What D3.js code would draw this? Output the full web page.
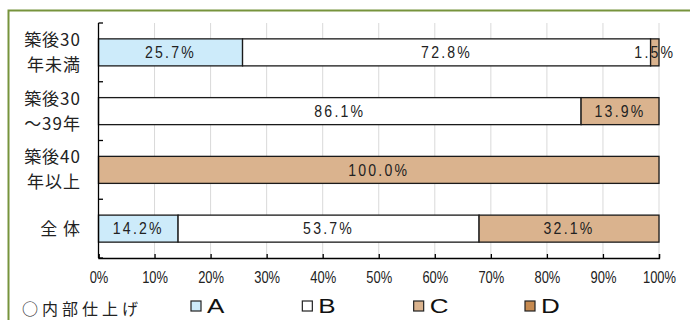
<!DOCTYPE html>
<html>
<head>
<meta charset="utf-8">
<script src="https://cdn.jsdelivr.net/npm/d3@7"></script>
<style>
  html, body { margin: 0; padding: 0; background: #fff; }
  svg { display: block; }
  .num { font-family: "Liberation Sans Narrow", "Liberation Sans", sans-serif; }
  .jp { font-family: "Noto Sans CJK JP", sans-serif; }
</style>
</head>
<body>
<svg id="chart" width="690" height="320"></svg>
<script>
// Age groups (two-line labels) and the shares of each rating
const categories = ["築後30年未満", "築後30～39年", "築後40年以上", "全体"];
const categoryLines = [["築後30", "年未満"], ["築後30", "～39年"], ["築後40", "年以上"], ["全 体"]];
const seriesNames = ["A", "B", "C", "D"];
const valuesA = [25.7, 0, 0, 14.2];
const valuesB = [72.8, 86.1, 0, 53.7];
const valuesC = [1.5, 13.9, 100.0, 32.1];
const valuesD = [0, 0, 0, 0];
const xTicks = [0, 10, 20, 30, 40, 50, 60, 70, 80, 90, 100];
const legendTitle = "○内部仕上げ";

const colors = { A: "#cdebfa", B: "#ffffff", C: "#dab38e", D: "#c68a50" };

const svg = d3.select("#chart");

// narrow the digits horizontally, keeping their height
function condense(sel, factor) {
  sel.each(function () {
    const w = this.getComputedTextLength();
    d3.select(this).attr("textLength", w * factor).attr("lengthAdjust", "spacingAndGlyphs");
  });
}

// frame
svg.append("rect")
  .attr("x", 8.5).attr("y", 10.5).attr("width", 690).attr("height", 330)
  .attr("fill", "#fff").attr("stroke", "#77933c").attr("stroke-width", 2);

const x = d3.scaleLinear().domain([0, 100]).range([98.5, 659]);
const y = d3.scaleBand().domain(categories).range([23, 258])
  .paddingInner(0.54).paddingOuter(0.27);

// vertical grid
svg.append("g").selectAll("line")
  .data(xTicks.filter(t => t > 0))
  .join("line")
  .attr("x1", d => x(d)).attr("x2", d => x(d))
  .attr("y1", 23).attr("y2", 258)
  .attr("stroke", "#d9d9d9").attr("stroke-width", 1);

// stacked rows
const rows = categories.map((c, i) => ({
  cat: c,
  vals: [valuesA[i], valuesB[i], valuesC[i], valuesD[i]]
}));
const stack = d3.stack().keys([0, 1, 2, 3]).value((d, k) => d.vals[k]);
const stacked = stack(rows);

const segs = [];
stacked.forEach((layer, k) => {
  layer.forEach(s => {
    const v = s.data.vals[k];
    if (v > 0) segs.push({ key: seriesNames[k], cat: s.data.cat, x0: s[0], x1: s[1], v });
  });
});

svg.append("g").selectAll("rect")
  .data(segs)
  .join("rect")
  .attr("x", d => x(d.x0))
  .attr("y", d => y(d.cat))
  .attr("width", d => x(d.x1) - x(d.x0))
  .attr("height", y.bandwidth())
  .attr("fill", d => colors[d.key])
  .attr("stroke", "#1a1a1a").attr("stroke-width", 1.3);

const barLabels = svg.append("g").selectAll("text")
  .data(segs)
  .join("text")
  .attr("class", "num")
  .attr("x", d => x((d.x0 + d.x1) / 2))
  .attr("y", d => y(d.cat) + y.bandwidth() / 2)
  .attr("dy", "0.36em")
  .attr("text-anchor", "middle")
  .attr("font-size", 16)
  .attr("letter-spacing", 2.5)
  .attr("fill", "#222")
  .text(d => d.v.toFixed(1) + "%");
condense(barLabels, 0.88);

// left axis with inward ticks at band boundaries
const gy = svg.append("g");
gy.append("line").attr("x1", 98.5).attr("x2", 98.5).attr("y1", 23).attr("y2", 258)
  .attr("stroke", "#000").attr("stroke-width", 1.3);
const bounds = categories.map(c => y(c) - y.step() * y.paddingInner() / 2)
  .concat([258]);
gy.selectAll("line.t").data(bounds).join("line").attr("class", "t")
  .attr("x1", 98.5).attr("x2", 103).attr("y1", d => d).attr("y2", d => d)
  .attr("stroke", "#000").attr("stroke-width", 1.3);

// bottom axis
const xAxis = d3.axisBottom(x).tickValues(xTicks).tickFormat(d => d + "%")
  .tickSize(-4).tickPadding(13);
const gx = svg.append("g").attr("transform", "translate(0,258)").call(xAxis);
gx.select(".domain").attr("stroke", "#000").attr("stroke-width", 1.3);
gx.selectAll(".tick line").attr("stroke", "#000").attr("stroke-width", 1.3);
const tickText = gx.selectAll(".tick text").attr("font-size", 17).attr("fill", "#222")
  .attr("font-family", "Liberation Sans Narrow, Liberation Sans, sans-serif");
condense(tickText, 0.76);

// category labels
const gl = svg.append("g").attr("class", "jp");
categories.forEach((c, i) => {
  const lines = categoryLines[i];
  const cy = y(c) + y.bandwidth() / 2;
  lines.forEach((ln, j) => {
    gl.append("text")
      .attr("x", 81)
      .attr("y", cy + (j - (lines.length - 1) / 2) * 25)
      .attr("dy", "0.36em")
      .attr("text-anchor", "end")
      .attr("font-size", 17)
      .attr("letter-spacing", 1)
      .attr("fill", "#222")
      .text(ln);
  });
});

// legend
svg.append("text").attr("class", "jp")
  .attr("x", 22).attr("y", 309).attr("dy", "0.36em")
  .attr("font-size", 16).attr("letter-spacing", 4).attr("fill", "#222")
  .text(legendTitle);

const lx = d3.scalePoint().domain(seriesNames).range([191, 525]);
const lg = svg.append("g").selectAll("g").data(seriesNames).join("g")
  .attr("transform", d => `translate(${lx(d)},301)`);
lg.append("rect").attr("width", 10).attr("height", 10)
  .attr("fill", d => colors[d]).attr("stroke", "#222").attr("stroke-width", 1.2);
const legendText = lg.append("text").attr("x", 16).attr("y", 5).attr("dy", "0.36em")
  .attr("font-family", "Liberation Sans, Arial, sans-serif")
  .attr("font-size", 20).attr("fill", "#111")
  .text(d => d);
condense(legendText, 1.3);
</script>
</body>
</html>
